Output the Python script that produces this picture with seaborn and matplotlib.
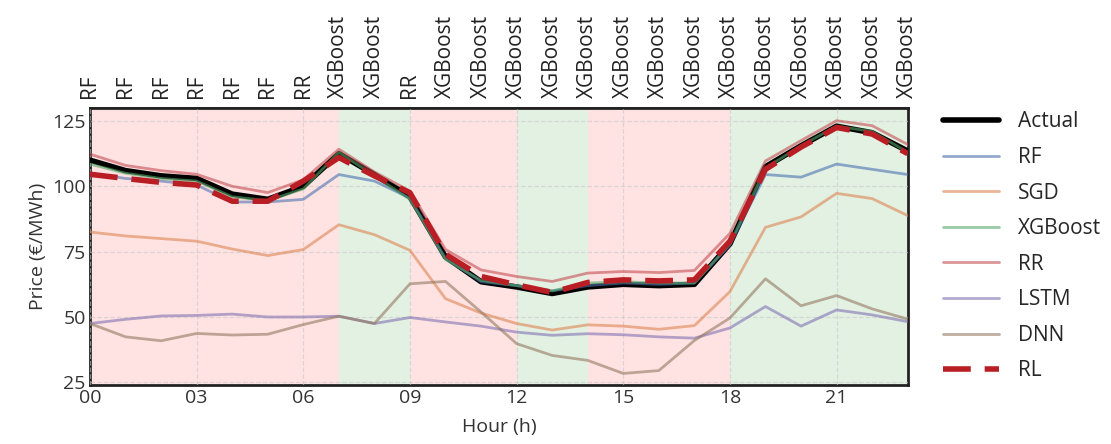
import numpy as np
import pandas as pd
import seaborn as sns
import matplotlib.pyplot as plt

hours = list(range(24))

actual = [110, 106, 104, 103, 97, 95, 100, 112.5, 104.5, 96, 73, 63.5, 61.5, 59,
          61.5, 62.5, 62, 62.5, 78, 107.5, 115.5, 123, 120.5, 113.5]
rf = [105, 103, 102, 100.5, 94, 94, 95, 104.5, 102, 95.5, 72.5, 63.5, 62, 60,
      62, 63, 62.5, 63, 77.5, 104.5, 103.5, 108.5, 106.5, 104.5]
sgd = [82.5, 81, 80, 79, 76, 73.5, 75.8, 85.3, 81.5, 75.5, 57, 51.5, 47.5, 45,
       47, 46.5, 45.3, 46.7, 59.7, 84.3, 88.3, 97.3, 95.3, 88.8]
xgb = [108.5, 105, 103, 102, 96, 94.5, 99, 113, 104, 95, 72, 64, 62, 60,
       63, 63.5, 63, 63, 78, 107, 115.5, 123, 121, 113]
rr = [112.3, 108, 106, 104.6, 100, 97.6, 102.5, 114.2, 105.5, 98.2, 75.8, 68, 65.5, 63.6,
      66.8, 67.4, 67, 67.8, 82, 109.7, 117.5, 125.1, 123.2, 116]
lstm = [47.5, 49.1, 50.4, 50.6, 51.1, 50, 50, 50.3, 47.5, 49.8, 48.1, 46.5, 44.2, 43,
        43.6, 43.2, 42.4, 41.9, 45.8, 54, 46.5, 52.7, 50.8, 48.2]
dnn = [47.5, 42.4, 40.9, 43.7, 43.1, 43.4, 47.1, 50.3, 47.5, 62.7, 63.6, 51.9, 39.8, 35.3,
       33.4, 28.4, 29.5, 41, 49.6, 64.6, 54.3, 58.2, 53.1, 49.2]
rl = [104.6, 103, 101.5, 100.5, 94.3, 94.3, 102, 111, 104, 97.5, 74, 65.5, 62.3, 59.4,
      63.2, 64.2, 63.8, 64.2, 79, 106.5, 115, 122.5, 120, 112.5]

# model chosen by RL agent for each hour
chosen = ["RF"] * 6 + ["RR", "XGBoost", "XGBoost", "RR"] + ["XGBoost"] * 14

# shaded spans (start, end, colour)
spans = [(0, 7, "red"), (7, 9, "green"), (9, 12, "red"),
         (12, 14, "green"), (14, 18, "red"), (18, 23, "green")]

models = {"RF": rf, "SGD": sgd, "XGBoost": xgb, "RR": rr, "LSTM": lstm, "DNN": dnn}

sns.set_theme(style="white")
plt.rcParams['font.family'] = ['Open Sans', 'DejaVu Sans']

fs = 15

fig, ax = plt.subplots(figsize=(11.11, 4.44), dpi=100)
fig.subplots_adjust(left=0.081, right=0.817, bottom=0.133, top=0.757)

for s, e, c in spans:
    ax.axvspan(s, e, color=c, alpha=0.11, lw=0, zorder=0)

sns.lineplot(x=hours, y=actual, color="black", lw=4, label="Actual", ax=ax, zorder=3)
pal = sns.color_palette("deep")
for i, (name, vals) in enumerate(models.items()):
    sns.lineplot(x=hours, y=vals, color=pal[i], lw=2, alpha=0.6, label=name, ax=ax, zorder=4)
sns.lineplot(x=hours, y=rl, color="#B81E24", lw=4, label="RL", ax=ax, zorder=5)
ax.lines[-1].set_dashes([5, 2.5])

ax.set_xlim(0, 23)
ax.set_ylim(24, 130)
ax.set_xticks(range(0, 24, 3))
ax.set_xticklabels([f"{h:02d}" for h in range(0, 24, 3)], fontsize=14)
ax.set_yticks([25, 50, 75, 100, 125])
ax.tick_params(axis="y", labelsize=14)
ax.tick_params(length=0, pad=3, colors="#333333")
ax.grid(True, ls="--", color="#C8C8C8", lw=0.9, alpha=0.6)
ax.set_axisbelow(False)
ax.set_xlabel("Hour (h)", fontsize=14, color="#333333", labelpad=8)
ax.set_ylabel("Price (€/MWh)", fontsize=14, color="#333333")
for sp in ax.spines.values():
    sp.set_color("#222222")
    sp.set_linewidth(2)

top = ax.secondary_xaxis("top")
top.set_xticks(hours)
top.set_xticklabels(chosen, rotation=90, fontsize=fs, color="#222222")
top.tick_params(length=0, pad=7)

ax.legend(loc="center left", bbox_to_anchor=(1.02, 0.5), frameon=False,
          fontsize=fs, handlelength=2.7, labelspacing=0.7, handletextpad=0.9)

plt.savefig("out.png", dpi=100)
